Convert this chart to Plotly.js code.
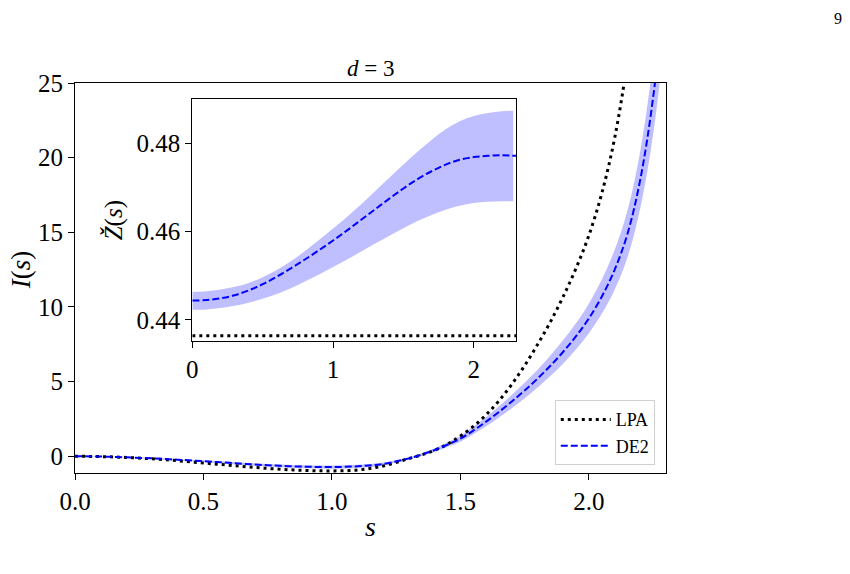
<!DOCTYPE html>
<html>
<head>
<meta charset="utf-8">
<script src="https://cdn.plot.ly/plotly-3.0.1.min.js"></script>
<style>html,body{margin:0;padding:0;background:#fff;}#chart{width:850px;height:574px;}</style>
</head>
<body>
<div id="chart"></div>
<script>
// ---- main panel data: I(s) ----
const sMain = [0,0.1,0.2,0.3,0.4,0.5,0.6,0.7,0.8,0.9,1.0,1.1,1.2,1.3,1.35,1.4,1.45,1.5,1.55,1.6,1.65,1.7,1.75,1.8,1.85,1.9,1.95,2.0,2.05,2.1,2.15,2.2,2.25,2.3];
const lpaI = [0,-0.02,-0.08,-0.17,-0.30,-0.45,-0.60,-0.75,-0.87,-0.95,-0.98,-0.92,-0.65,-0.15,0.10,0.40,0.82,1.36,2.00,2.78,3.72,4.82,6.08,7.48,9.00,10.70,12.60,14.80,17.60,21.30,26.50,33.50,43.0,56.0];
const de2I = [0,-0.02,-0.07,-0.14,-0.23,-0.33,-0.44,-0.55,-0.64,-0.70,-0.72,-0.67,-0.51,-0.14,0.12,0.42,0.78,1.18,1.72,2.32,2.97,3.67,4.41,5.20,6.06,7.00,8.04,9.24,10.69,12.49,14.89,18.54,24.04,32.04];
const de2IUpper = [0.02,0.0,-0.04,-0.10,-0.18,-0.27,-0.37,-0.47,-0.55,-0.60,-0.61,-0.56,-0.41,-0.06,0.21,0.54,0.94,1.38,1.97,2.63,3.35,4.12,4.93,5.80,6.75,7.78,8.92,10.24,11.84,13.82,16.46,20.47,26.52,35.32];
const de2ILower = [-0.02,-0.04,-0.10,-0.18,-0.28,-0.39,-0.51,-0.63,-0.73,-0.80,-0.83,-0.78,-0.61,-0.22,0.03,0.30,0.62,0.98,1.47,2.01,2.59,3.22,3.89,4.60,5.37,6.22,7.16,8.24,9.54,11.16,13.32,16.61,21.56,28.76];

// ---- inset data: Z(s) ----
const sInset = [0,0.1,0.2,0.3,0.4,0.5,0.6,0.7,0.8,0.9,1.0,1.1,1.2,1.3,1.4,1.5,1.6,1.7,1.8,1.9,2.0,2.1,2.2,2.3];
const de2Z = [0.4444,0.4445,0.4449,0.4456,0.4467,0.4481,0.4498,0.4517,0.4537,0.4558,0.4580,0.4603,0.4627,0.4651,0.4675,0.4698,0.4719,0.4737,0.4752,0.4763,0.4769,0.4772,0.4773,0.4772];
const sBand = [0,0.1,0.2,0.3,0.4,0.5,0.6,0.7,0.8,0.9,1.0,1.1,1.2,1.3,1.4,1.5,1.6,1.7,1.8,1.9,2.0,2.1,2.2,2.28];
const de2ZUpper = [0.4464,0.4465,0.4469,0.4475,0.4484,0.4497,0.4513,0.4533,0.4556,0.4581,0.4607,0.4634,0.4662,0.4692,0.4722,0.4752,0.4781,0.4808,0.4832,0.4850,0.4862,0.4869,0.4873,0.4874];
const de2ZLower = [0.4423,0.4424,0.4427,0.4432,0.4439,0.4448,0.4459,0.4472,0.4487,0.4503,0.4520,0.4537,0.4555,0.4573,0.4591,0.4608,0.4624,0.4638,0.4650,0.4659,0.4665,0.4668,0.4669,0.4669];
const sLpaZ = [0, 2.3];
const lpaZ = [0.4364, 0.4364];

const mainXTicks = [0,0.5,1.0,1.5,2.0];
const mainYTicks = [0,5,10,15,20,25];
const insetXTicks = [0,1,2];
const insetYTicks = [0.44,0.46,0.48];

const FONT = "Liberation Serif";
const bandColor = 'rgba(0,0,255,0.25)';

const traces = [
  {x: sMain, y: de2ILower, mode:'lines', line:{width:0, shape:'spline'}, hoverinfo:'skip', showlegend:false, xaxis:'x', yaxis:'y'},
  {x: sMain, y: de2IUpper, mode:'lines', line:{width:0, shape:'spline'}, fill:'tonexty', fillcolor: bandColor, hoverinfo:'skip', showlegend:false, xaxis:'x', yaxis:'y'},
  {x: sMain, y: lpaI, mode:'lines', name:'LPA', line:{color:'#000', width:3, dash:'3px,4px', shape:'spline'}, xaxis:'x', yaxis:'y'},
  {x: sMain, y: de2I, mode:'lines', name:'DE2', line:{color:'#0000ff', width:2, dash:'7px,3px', shape:'spline'}, xaxis:'x', yaxis:'y'},
  {x: sBand, y: de2ZLower, mode:'lines', line:{width:0, shape:'spline'}, hoverinfo:'skip', showlegend:false, xaxis:'x2', yaxis:'y2'},
  {x: sBand, y: de2ZUpper, mode:'lines', line:{width:0, shape:'spline'}, fill:'tonexty', fillcolor: bandColor, hoverinfo:'skip', showlegend:false, xaxis:'x2', yaxis:'y2'},
  {x: sLpaZ, y: lpaZ, mode:'lines', line:{color:'#000', width:3, dash:'3px,4px'}, showlegend:false, xaxis:'x2', yaxis:'y2'},
  {x: sInset, y: de2Z, mode:'lines', line:{color:'#0000ff', width:2, dash:'7px,3px', shape:'spline'}, showlegend:false, xaxis:'x2', yaxis:'y2'}
];

function ax(extra) {
  return Object.assign({
    showline:true, linecolor:'#000', linewidth:1, mirror:true,
    ticks:'outside', ticklen:6, tickwidth:1, tickcolor:'#000',
    showgrid:false, zeroline:false,
    tickfont:{family:FONT, size:25, color:'#000'}
  }, extra);
}

const layout = {
  width:850, height:574, autosize:false,
  font:{family:FONT, color:'#000'},
  margin:{l:75, r:184, t:83, b:101, pad:0},
  paper_bgcolor:'#fff', plot_bgcolor:'#fff',
  showlegend:true,
  legend:{x:0.981, y:0.02, xanchor:'right', yanchor:'bottom', bgcolor:'#fff', bordercolor:'#d0d0d0', borderwidth:1,
          traceorder:'normal', itemwidth:50,
          font:{family:FONT, size:18, color:'#000'}, tracegroupgap:0},
  xaxis: ax({range:[0,2.3], tickvals:mainXTicks, ticktext:mainXTicks.map(v=>v.toFixed(1)), domain:[0,1], anchor:'y'}),
  yaxis: ax({range:[-1.12,25], tickvals:mainYTicks, domain:[0,1], anchor:'x'}),
  xaxis2: ax({range:[0,2.3], tickvals:insetXTicks, domain:[0.1985,0.7462], anchor:'y2'}),
  yaxis2: ax({range:[0.4353,0.4900], tickvals:insetYTicks, ticktext:insetYTicks.map(v=>v.toFixed(2)), domain:[0.3392,0.9582], anchor:'x2'}),
  annotations:[
    {text:'<i>d</i> = 3', xref:'paper', yref:'paper', x:0.5, y:1.0, yanchor:'bottom', yshift:0, showarrow:false, font:{family:FONT, size:23, color:'#000'}},
    {text:'<i>s</i>', xref:'paper', yref:'paper', x:0.5, y:0, yanchor:'top', yshift:-36, showarrow:false, font:{family:FONT, size:28, color:'#000'}},
    {text:'<i>I</i>(<i>s</i>)', xref:'paper', yref:'paper', x:0, y:0.52, xanchor:'center', xshift:-54, textangle:-90, showarrow:false, font:{family:FONT, size:27, color:'#000'}},
    {text:'<i>Ž</i>(<i>s</i>)', xref:'paper', yref:'paper', x:0.1985, y:0.6487, xanchor:'center', xshift:-78, textangle:-90, showarrow:false, font:{family:FONT, size:25, color:'#000'}},
    {text:'9', xref:'paper', yref:'paper', x:1, y:1, xanchor:'center', yanchor:'middle', xshift:172, yshift:65, showarrow:false, font:{family:FONT, size:16, color:'#000'}}
  ]
};

Plotly.newPlot('chart', traces, layout, {staticPlot:true, displayModeBar:false});
</script>
</body>
</html>
